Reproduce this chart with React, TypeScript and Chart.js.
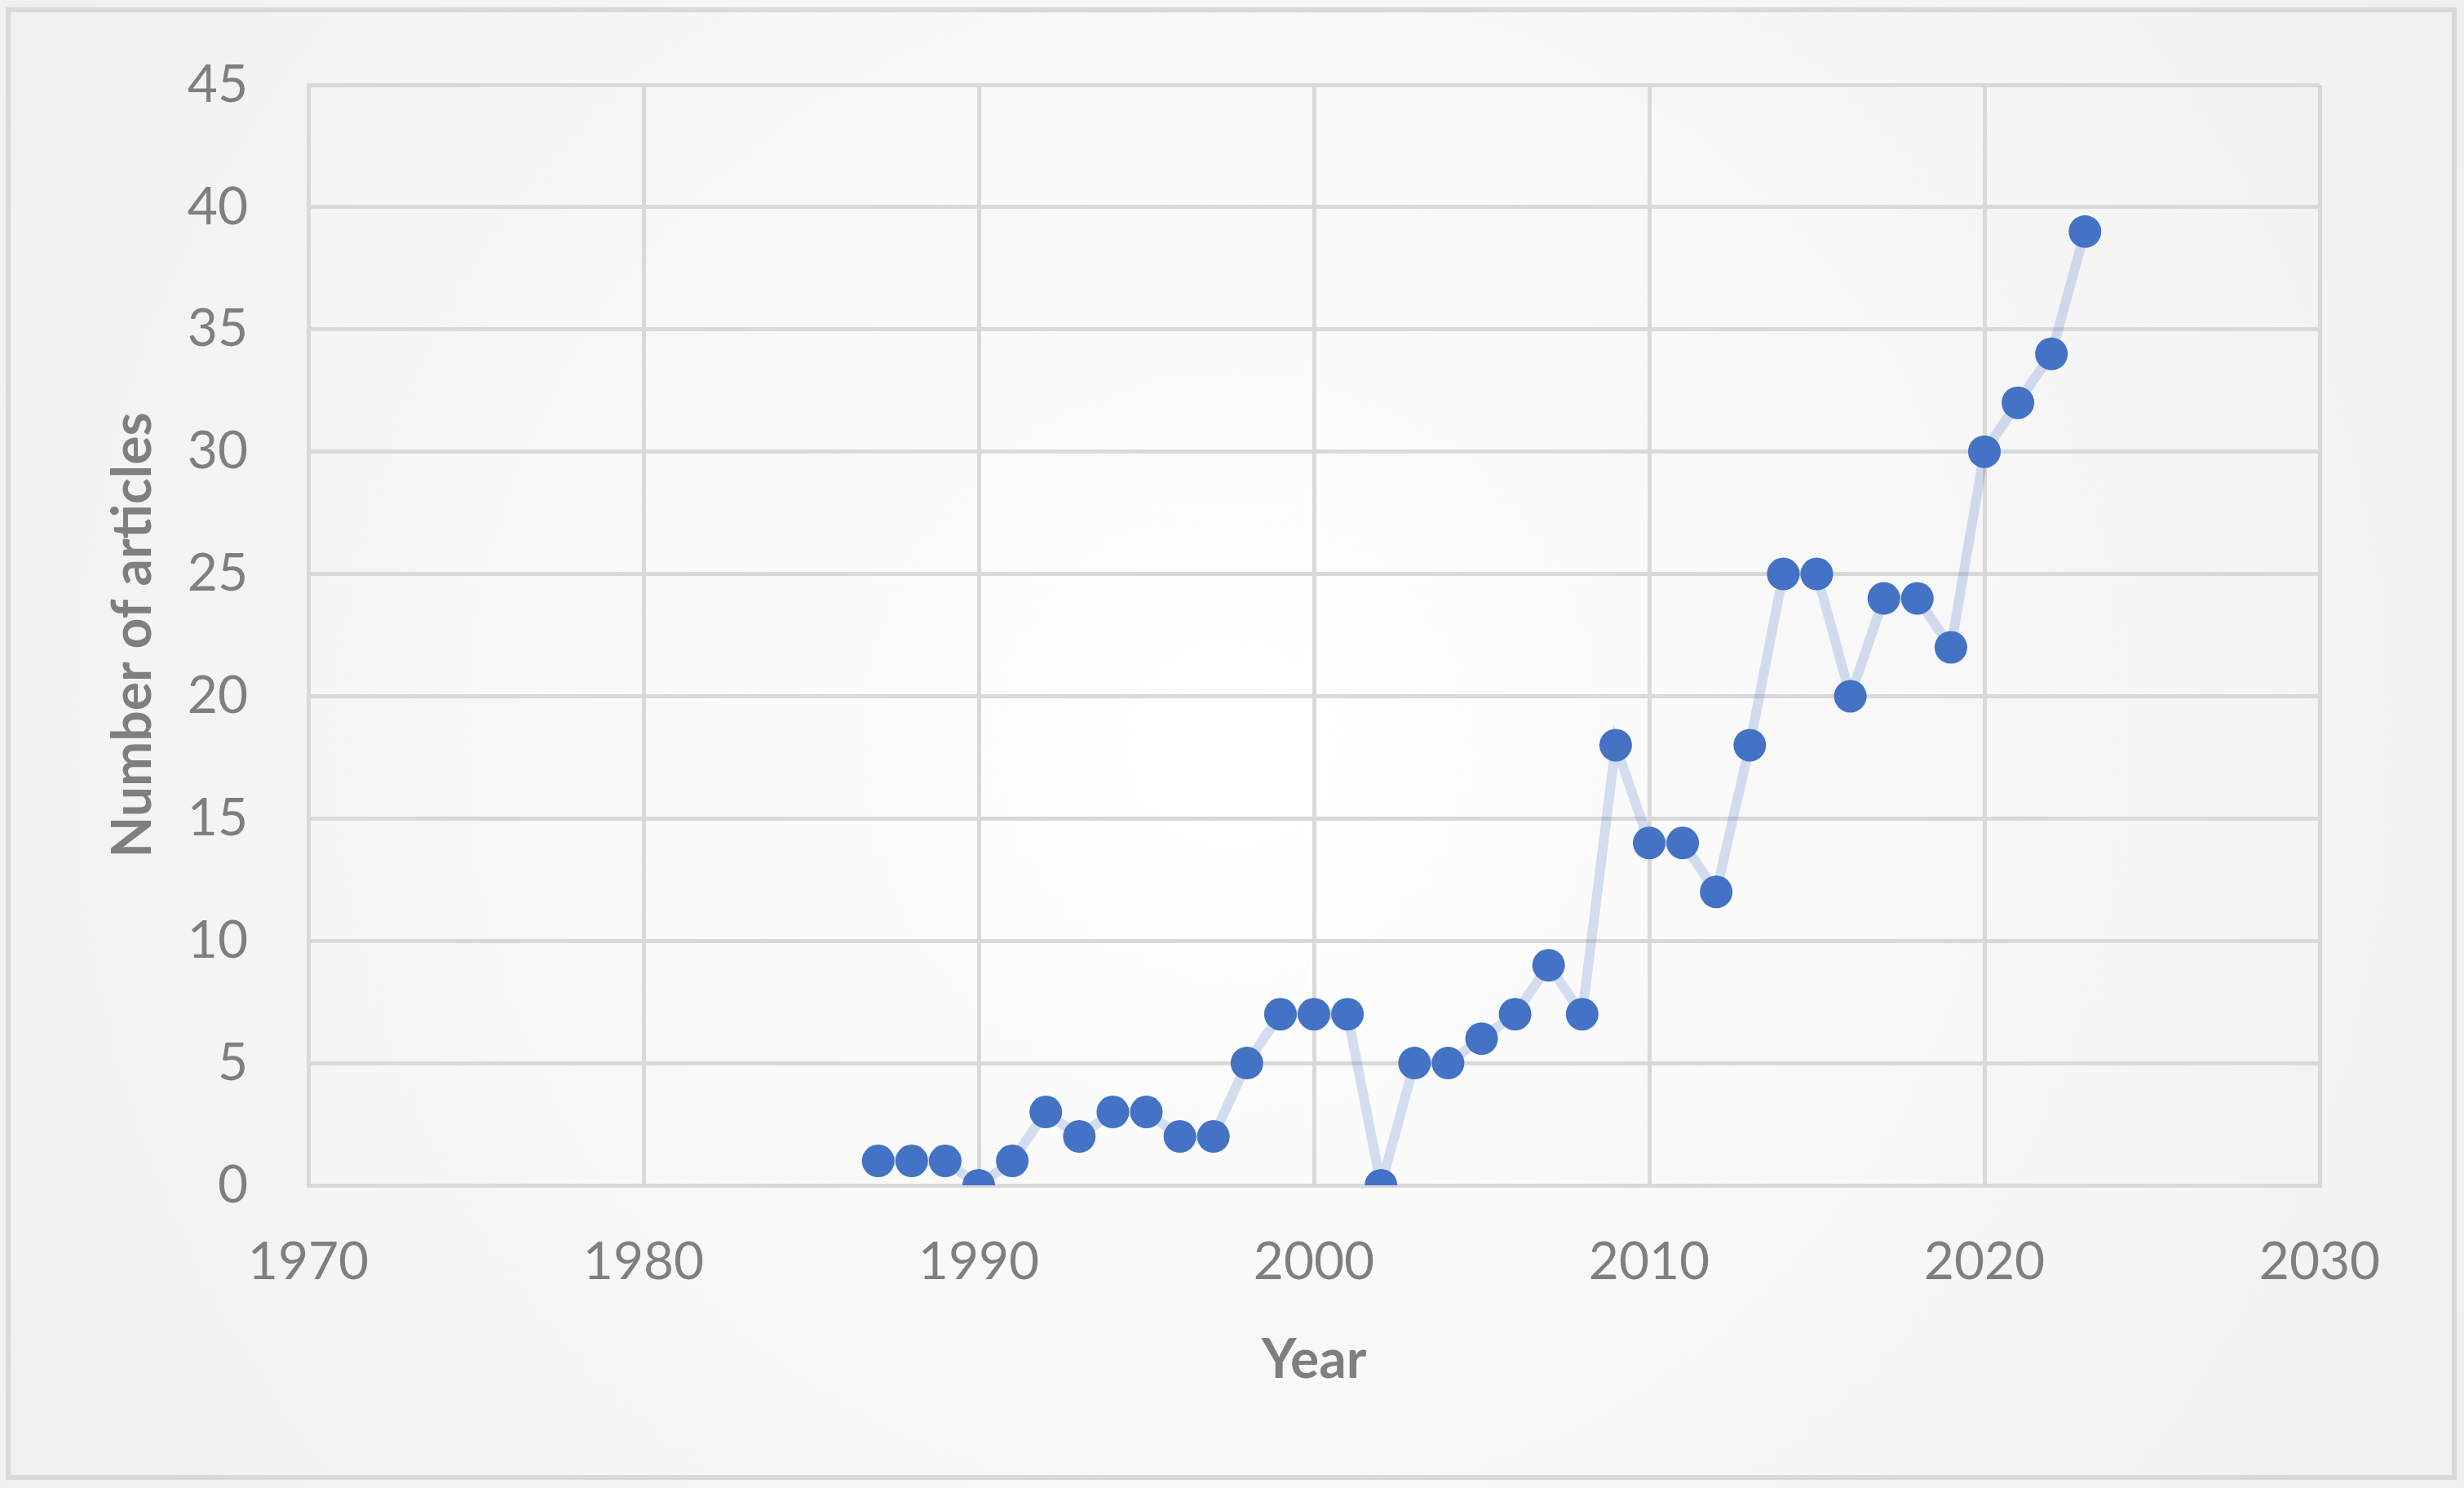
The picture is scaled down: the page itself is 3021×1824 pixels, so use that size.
import React, { useEffect, useRef } from "react";
import { Chart, registerables } from "chart.js";

Chart.register(...registerables);

const years = [1987, 1988, 1989, 1990, 1991, 1992, 1993, 1994, 1995, 1996, 1997, 1998, 1999, 2000, 2001, 2002, 2003, 2004, 2005, 2006, 2007, 2008, 2009, 2010, 2011, 2012, 2013, 2014, 2015, 2016, 2017, 2018, 2019, 2020, 2021, 2022, 2023];
const articles = [1, 1, 1, 0, 1, 3, 2, 3, 3, 2, 2, 5, 7, 7, 7, 0, 5, 5, 6, 7, 9, 7, 18, 14, 14, 12, 18, 25, 25, 20, 24, 24, 22, 30, 32, 34, 39];
const xMin = 1970;
const xMax = 2030;
const xStep = 10;
const yMin = 0;
const yMax = 45;
const yStep = 5;
const xTitle = "Year";
const yTitle = "Number of articles";

const W = 3021;
const H = 1824;
const GRID = "#d9d9d9";
const TEXT = "#7f7f7f";
const FONT = "Lato, 'Open Sans', sans-serif";

const bgPlugin = {
  id: "bgPlugin",
  beforeDraw(chart: any) {
    const { ctx, width, height } = chart;
    ctx.save();
    const g = ctx.createRadialGradient(width / 2, height / 2, 0, width / 2, height / 2, Math.hypot(width, height) / 2);
    g.addColorStop(0, "#ffffff");
    g.addColorStop(1, "#f0f0f0");
    ctx.fillStyle = g;
    ctx.fillRect(0, 0, width, height);
    ctx.strokeStyle = GRID;
    ctx.lineWidth = 6;
    ctx.strokeRect(10, 12, 2999, 1799);
    ctx.restore();
  },
};

export default function App() {
  const ref = useRef<HTMLCanvasElement | null>(null);
  useEffect(() => {
    if (!ref.current) return;
    const points = years.map((y, i) => ({ x: y, y: articles[i] }));
    const chart = new Chart(ref.current, {
      type: "scatter",
      data: {
        datasets: [
          {
            data: points,
            showLine: true,
            borderColor: "rgba(68,114,196,0.22)",
            borderWidth: 12,
            backgroundColor: "#4472C4",
            pointRadius: 20,
            pointBorderWidth: 0,
            pointBorderColor: "#4472C4",
            pointStyle: "circle",
          },
        ],
      },
      options: {
        responsive: false,
        animation: false,
        devicePixelRatio: 1,
        layout: { padding: { top: 104, right: 177, left: 0, bottom: 0 } },
        plugins: { legend: { display: false }, tooltip: { enabled: false } },
        scales: {
          x: {
            type: "linear",
            min: xMin,
            max: xMax,
            afterFit(scale: any) {
              scale.height = 1824 - 1453;
            },
            ticks: {
              stepSize: xStep,
              color: TEXT,
              padding: 56,
              font: { family: FONT, size: 64 },
              callback: (v: any) => String(v),
              maxRotation: 0,
            },
            grid: { color: GRID, lineWidth: 5, drawTicks: false },
            border: { display: true, color: GRID, width: 5 },
            title: {
              display: true,
              text: xTitle,
              color: TEXT,
              font: { family: FONT, size: 66, weight: "bold" },
              padding: { top: 0, bottom: 117 },
            },
          },
          y: {
            type: "linear",
            min: yMin,
            max: yMax,
            afterFit(scale: any) {
              scale.width = 378;
            },
            ticks: {
              stepSize: yStep,
              color: TEXT,
              padding: 74,
              font: { family: FONT, size: 64, lineHeight: 0.5 },
            },
            grid: { color: GRID, lineWidth: 5, drawTicks: false },
            border: { display: true, color: GRID, width: 5 },
            title: {
              display: true,
              text: yTitle,
              color: TEXT,
              font: { family: FONT, size: 66, weight: "bold" },
              padding: { top: 124, bottom: 0 },
            },
          },
        },
      },
      plugins: [bgPlugin],
    } as any);
    return () => chart.destroy();
  }, []);
  return (
    <div style={{ position: "fixed", left: 0, top: 0, width: W, height: H }}>
      <canvas ref={ref} width={W} height={H} style={{ display: "block", width: W, height: H }} />
    </div>
  );
}
